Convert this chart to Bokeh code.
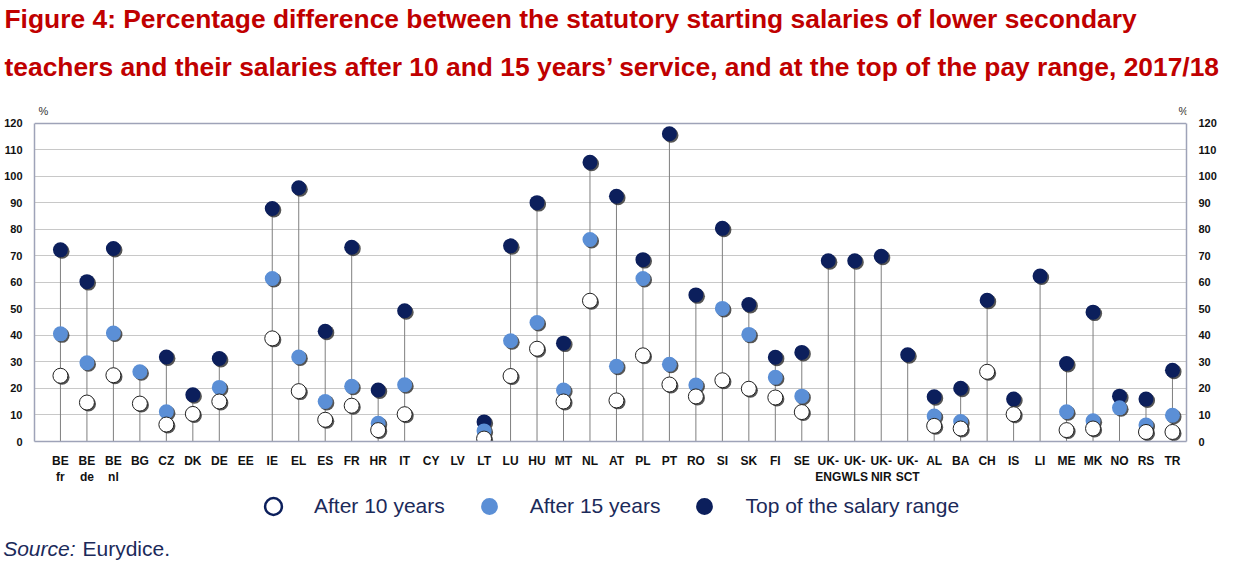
import math
from bokeh.plotting import figure
from bokeh.layouts import column
from bokeh.models import (Range1d, LinearAxis, FixedTicker, ColumnDataSource,
                          Label, Legend, LegendItem, Title, Span)
from bokeh.transform import dodge
from bokeh.embed import file_html
from bokeh.resources import INLINE

NAN = float("nan")

categories = ["BE\nfr", "BE\nde", "BE\nnl", "BG", "CZ", "DK", "DE", "EE", "IE", "EL",
              "ES", "FR", "HR", "IT", "CY", "LV", "LT", "LU", "HU", "MT",
              "NL", "AT", "PL", "PT", "RO", "SI", "SK", "FI", "SE",
              "UK-\nENG", "UK-\nWLS", "UK-\nNIR", "UK-\nSCT",
              "AL", "BA", "CH", "IS", "LI", "ME", "MK", "NO", "RS", "TR"]

after_10 = [24.8, 14.7, 25.0, 14.3, 6.4, 10.4, 15.1, NAN, 38.9, 19.0,
            8.2, 13.5, 4.3, 10.3, NAN, NAN, 1.1, 24.7, 35.0, 15.1,
            53.1, 15.5, 32.5, 21.5, 17.0, 23.1, 19.9, 16.6, 11.1,
            NAN, NAN, NAN, NAN,
            5.9, 4.9, 26.3, 10.3, NAN, 4.3, 4.9, NAN, 3.6, 3.6]

after_15 = [40.6, 29.7, 40.9, 26.3, 11.2, NAN, 20.4, NAN, 61.5, 31.9,
            15.1, 20.8, 6.9, 21.4, NAN, NAN, 4.0, 38.0, 44.9, 19.4,
            76.2, 28.4, 61.5, 29.1, 21.3, 50.2, 40.4, 24.2, 17.1,
            NAN, NAN, NAN, NAN,
            9.6, 7.5, NAN, NAN, NAN, 11.2, 7.8, 12.7, 6.2, 9.9]

top_range = [72.3, 60.3, 72.8, NAN, 31.9, 17.6, 31.3, NAN, 87.9, 95.7,
             41.6, 73.3, 19.4, 49.3, NAN, NAN, 7.4, 73.8, 90.1, 37.1,
             105.3, 92.5, 68.6, 116.1, 55.3, 80.4, 51.7, 31.8, 33.6,
             68.2, 68.2, 69.9, 32.7,
             16.9, 20.1, 53.3, 16.0, 62.4, 29.4, 48.8, 17.1, 16.0, 26.9]

y_ticks = list(range(0, 121, 10))
Y_MAX = 120

series_labels = ["After 10 years", "After 15 years", "Top of the salary range"]

title_lines = ["Figure 4: Percentage difference between the statutory starting salaries of lower secondary",
               "teachers and their salaries after 10 and 15 years\u2019 service, and at the top of the pay range, 2017/18"]
source_label = "Source:"
source_name = "Eurydice."

RED = "#c00000"
NAVY = "#0c1f5c"
BLUE = "#5b8fd6"
TEXT_NAVY = "#1b2a5a"
FRAME = "#9ea3b8"
SANS = "Liberation Sans"

FW = 1152      # frame width
BL, BR = 34, 38

idx = list(range(len(categories)))


def stem_top(vals):
    v = [a for a in vals if not math.isnan(a)]
    return max(v) if v else NAN


stems = [stem_top(t) for t in zip(after_10, after_15, top_range)]

src = ColumnDataSource(dict(x=idx, a10=after_10, a15=after_15, top=top_range,
                            y0=[0] * len(idx), stem=stems))

# ---------------- main chart ----------------
p = figure(frame_width=FW, frame_height=338, output_backend="svg",
           toolbar_location=None, title_location=None,
           x_range=Range1d(-0.98, 42.53), y_range=Range1d(0, 127.5),
           min_border_left=BL, min_border_right=BR, min_border_top=103,
           min_border_bottom=44, background_fill_color="white",
           border_fill_color="white")
p.outline_line_color = None

p.xaxis.ticker = FixedTicker(ticks=idx)
p.xaxis.major_label_overrides = {i: c for i, c in enumerate(categories)}
p.xaxis.major_label_text_font = SANS
p.xaxis.major_label_text_font_style = "bold"
p.xaxis.major_label_text_font_size = "12px"
p.xaxis.major_label_text_color = "#111111"
p.xaxis.major_label_standoff = 12

p.yaxis.ticker = FixedTicker(ticks=y_ticks)
right = LinearAxis(ticker=FixedTicker(ticks=y_ticks))
p.add_layout(right, "right")

for ax in p.yaxis:
    ax.major_label_text_font = SANS
    ax.major_label_text_font_style = "bold"
    ax.major_label_text_font_size = "11px"
    ax.major_label_text_color = "#111111"
    ax.major_label_standoff = 12
    ax.bounds = (0, Y_MAX)
for ax in p.axis:
    ax.axis_line_color = FRAME
    ax.axis_line_width = 1.5
    ax.major_tick_line_color = None
    ax.minor_tick_line_color = None
    ax.major_tick_in = 0
    ax.major_tick_out = 0
    ax.minor_tick_out = 0

p.xgrid.grid_line_color = None
p.ygrid.ticker = FixedTicker(ticks=y_ticks[1:-1])
p.ygrid.grid_line_color = "#c8c8c8"
p.ygrid.grid_line_width = 1
p.add_layout(Span(location=Y_MAX, dimension="width", line_color=FRAME, line_width=1.5))

p.segment(x0="x", y0="y0", x1="x", y1="stem", source=src,
          line_color="#7f7f7f", line_width=1)

SX = 0.06
SY = -0.55
SIZE = 15

for col, fill, line in [("top", NAVY, None), ("a15", BLUE, None), ("a10", "white", "#222222")]:
    p.scatter(x=dodge("x", SX), y=dodge(col, SY), source=src, size=SIZE,
              fill_color="#2a2a2a", line_color=None, fill_alpha=0.8)
    p.scatter(x="x", y=col, source=src, size=SIZE, fill_color=fill,
              line_color=line, line_width=1)

for xx in [9, FW - 3]:
    p.add_layout(Label(x=xx, y=124.7, x_units="screen", y_units="data", text="%",
                       text_font=SANS, text_font_size="11px", text_color="#333333",
                       text_baseline="middle", text_align="center"))

t2 = Title(text=title_lines[1], align="left", offset=-30, standoff=39,
           text_font=SANS, text_font_style="bold", text_font_size="26.4px",
           text_color=RED, vertical_align="top")
t1 = Title(text=title_lines[0], align="left", offset=-30, standoff=-6,
           text_font=SANS, text_font_style="bold", text_font_size="26.4px",
           text_color=RED, vertical_align="top")
p.add_layout(t2, "above")
p.add_layout(t1, "above")

# ---------------- legend + source strip ----------------
BH = 76
SRC_Y = 15
bot = figure(frame_width=FW, frame_height=BH, output_backend="svg",
             toolbar_location=None, title_location=None,
             x_range=Range1d(0, FW), y_range=Range1d(0, BH),
             x_axis_type=None,
             min_border_left=BL, min_border_right=BR, min_border_top=0,
             min_border_bottom=0, background_fill_color="white",
             border_fill_color="white")
bot.outline_line_color = None
bot.xgrid.visible = False
bot.ygrid.visible = False

sax = bot.yaxis[0]
sax.ticker = FixedTicker(ticks=[SRC_Y])
sax.major_label_overrides = {SRC_Y: source_label}
sax.major_label_text_font = SANS
sax.major_label_text_font_style = "italic"
sax.major_label_text_font_size = "21px"
sax.major_label_text_color = TEXT_NAVY
sax.major_label_standoff = -41
sax.axis_line_color = None
sax.major_tick_line_color = None
sax.minor_tick_line_color = None
sax.major_tick_in = 0
sax.major_tick_out = 0
sax.minor_tick_out = 0

bot.add_layout(Label(x=48, y=SRC_Y, x_units="screen", y_units="data", text=source_name,
                     text_font=SANS, text_font_size="21px", text_color=TEXT_NAVY,
                     text_baseline="middle", text_align="left"))

dummy = ColumnDataSource(dict(x=[NAN], y=[NAN]))
r10 = bot.scatter("x", "y", source=dummy, fill_color="white", line_color=NAVY, line_width=2.5)
r15 = bot.scatter("x", "y", source=dummy, fill_color=BLUE, line_color=None)
rtop = bot.scatter("x", "y", source=dummy, fill_color=NAVY, line_color=None)

legend = Legend(items=[LegendItem(label=series_labels[0], renderers=[r10]),
                       LegendItem(label=series_labels[1], renderers=[r15]),
                       LegendItem(label=series_labels[2], renderers=[rtop])],
                orientation="horizontal", location=(218, 36),
                glyph_width=42, glyph_height=42, label_standoff=20, spacing=23,
                padding=0, margin=0, border_line_color=None,
                background_fill_alpha=0,
                label_text_font=SANS, label_text_font_size="21px",
                label_text_color=TEXT_NAVY, label_text_baseline="middle")
bot.add_layout(legend, "center")

layout = column(p, bot, spacing=0)
open("out.html", "w").write(file_html(layout, INLINE))
